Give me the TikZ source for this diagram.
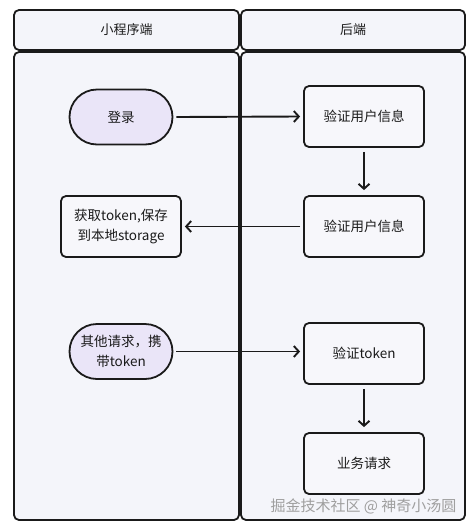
\documentclass[tikz,border=0pt]{standalone}
\usepackage{fontspec}
\setmainfont{Noto Sans CJK SC}
\usetikzlibrary{arrows.meta,shapes.misc}
\definecolor{lanefill}{HTML}{F4F5FA}
\definecolor{stadfill}{HTML}{EAE5F8}
\definecolor{boxfill}{HTML}{F7F7FB}
\definecolor{ink}{HTML}{1A1A1A}
\tikzset{
  lane/.style={draw=ink, line width=1.8pt, fill=lanefill, rounded corners=5pt},
  stad/.style={draw=ink, line width=1.8pt, fill=stadfill, rounded rectangle, minimum width=107pt, minimum height=55pt, inner sep=2pt, align=center, font=\fontsize{13.5}{20}\selectfont, text=ink},
  procbox/.style={draw=ink, line width=1.8pt, fill=boxfill, rounded corners=5pt, minimum width=120pt, minimum height=61pt, align=center, font=\fontsize{13.5}{20}\selectfont, text=ink},
  conn/.style={draw=ink, line width=1.9pt, -{Straight Barb[length=5pt,width=11pt,line width=1.9pt]}},
  title/.style={font=\fontsize{13}{15}\selectfont, text=ink}
}
\begin{document}
\begin{tikzpicture}[x=1pt,y=-1pt]
\useasboundingbox[fill=white] (0,0) rectangle (475,528);
% lanes
\draw[lane] (14,52) rectangle (239,520);
\draw[lane] (241,52) rectangle (465,520);
\draw[lane] (14,10) rectangle (239,50);
\draw[lane] (241,10) rectangle (465,50);
\node[title] (h1) at (126.5,30) {小程序端};
\node[title] (h2) at (353,30) {后端};
% nodes
\node[stad] (login) at (121,117) {登录};
\node[procbox] (v1) at (364,116.5) {验证用户信息};
\node[procbox] (v2) at (364,226.5) {验证用户信息};
\node[procbox] (save) at (121,226.5) {获取token,保存\\到本地storage};
\node[stad] (other) at (121,351.5) {其他请求，携\\带token};
\node[procbox] (vt) at (364,353.5) {验证token};
\node[procbox] (biz) at (364,463.5) {业务请求};
% connectors
\draw[conn] ([xshift=3pt]login.east) -- ([xshift=-3pt]v1.west);
\draw[conn] ([yshift=-4pt]v1.south) -- ([yshift=5pt]v2.north);
\draw[conn] ([xshift=-3pt]v2.west) -- ([xshift=3pt]save.east);
\draw[conn] ([xshift=3pt]other.east) -- ([xshift=-3pt]vt.west |- other.east);
\draw[conn] ([yshift=-4pt]vt.south) -- ([yshift=5pt]biz.north);
% watermark
\node[text=gray!75, font=\fontsize{15}{17}\selectfont, anchor=east] (wm) at (460,506) {掘金技术社区 @ 神奇小汤圆};
\end{tikzpicture}
\end{document}
